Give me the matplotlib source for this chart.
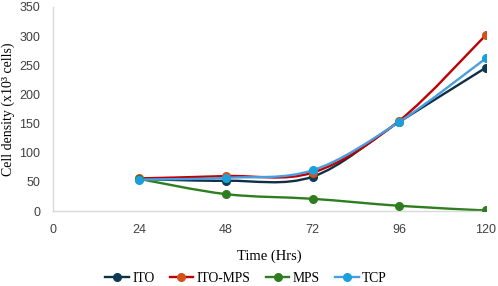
import numpy as np
import matplotlib.pyplot as plt
from matplotlib.path import Path
from matplotlib.patches import PathPatch
from matplotlib.lines import Line2D

hours = [24, 48, 72, 96, 120]
ito = [55, 52, 59, 153, 246]
ito_mps = [56, 60, 66, 155, 302]
mps = [55, 29, 21, 9, 1]
tcp = [54, 57, 70, 153, 262]

names = ["ITO", "ITO-MPS", "MPS", "TCP"]
series = [ito, ito_mps, mps, tcp]
line_cols = ["#0e2f44", "#c00000", "#2e7d1f", "#4a9ee0"]
mark_cols = ["#0e3a52", "#d4501a", "#2e7d1f", "#1ca0dc"]


def smooth_path(x, y):
    # Excel-style smoothed line: cubic bezier through the points
    pts = np.column_stack([x, y]).astype(float)
    n = len(pts)
    verts = [pts[0]]
    codes = [Path.MOVETO]
    for i in range(n - 1):
        p0 = pts[i - 1] if i > 0 else pts[i]
        p1 = pts[i]
        p2 = pts[i + 1]
        p3 = pts[i + 2] if i + 2 < n else pts[i + 1]
        c1 = p1 + (p2 - p0) / 6
        c2 = p2 - (p3 - p1) / 6
        verts += [c1, c2, p2]
        codes += [Path.CURVE4] * 3
    return Path(verts, codes)


fig = plt.figure(figsize=(4.98, 2.86), dpi=100)
ax = fig.add_axes([0.106, 0.262, 0.87, 0.714])

handles = []
for name, vals, lc, mc in zip(names, series, line_cols, mark_cols):
    ax.add_patch(PathPatch(smooth_path(hours, vals), fill=False,
                           edgecolor=lc, lw=1.7, zorder=2))
    ax.plot(hours, vals, linestyle="none", marker="o", ms=5.5,
            color=mc, zorder=3)
    handles.append(Line2D([], [], color=lc, lw=1.7, marker="o", ms=5.5,
                          markerfacecolor=mc, markeredgecolor=mc))

ax.set_xlim(0, 120)
ax.set_ylim(0, 350)
ax.set_xticks([0, 24, 48, 72, 96, 120])
ax.set_yticks(range(0, 351, 50))
ax.tick_params(length=0, labelsize=9, colors="#404040")
ax.tick_params(axis="y", pad=9)
ax.tick_params(axis="x", pad=9)
for lab in ax.get_xticklabels() + ax.get_yticklabels():
    lab.set_family("Liberation Sans")
for s in ["top", "right"]:
    ax.spines[s].set_visible(False)
for s in ["left", "bottom"]:
    ax.spines[s].set_color("#d9d9d9")
    ax.spines[s].set_linewidth(1)

ax.set_xlabel("Time (Hrs)", family="Liberation Serif", fontsize=10.5, labelpad=10)
ax.set_ylabel("Cell density (x10³ cells)", family="Liberation Serif",
              fontsize=10, labelpad=3)

fig.legend(handles, names, loc="lower center", ncol=4, frameon=False,
           bbox_to_anchor=(0.494, -0.04), prop={"family": "Liberation Serif", "size": 9.8},
           handlelength=1.75, columnspacing=1.1, handletextpad=0.25)

fig.savefig("out.png", dpi=100)
